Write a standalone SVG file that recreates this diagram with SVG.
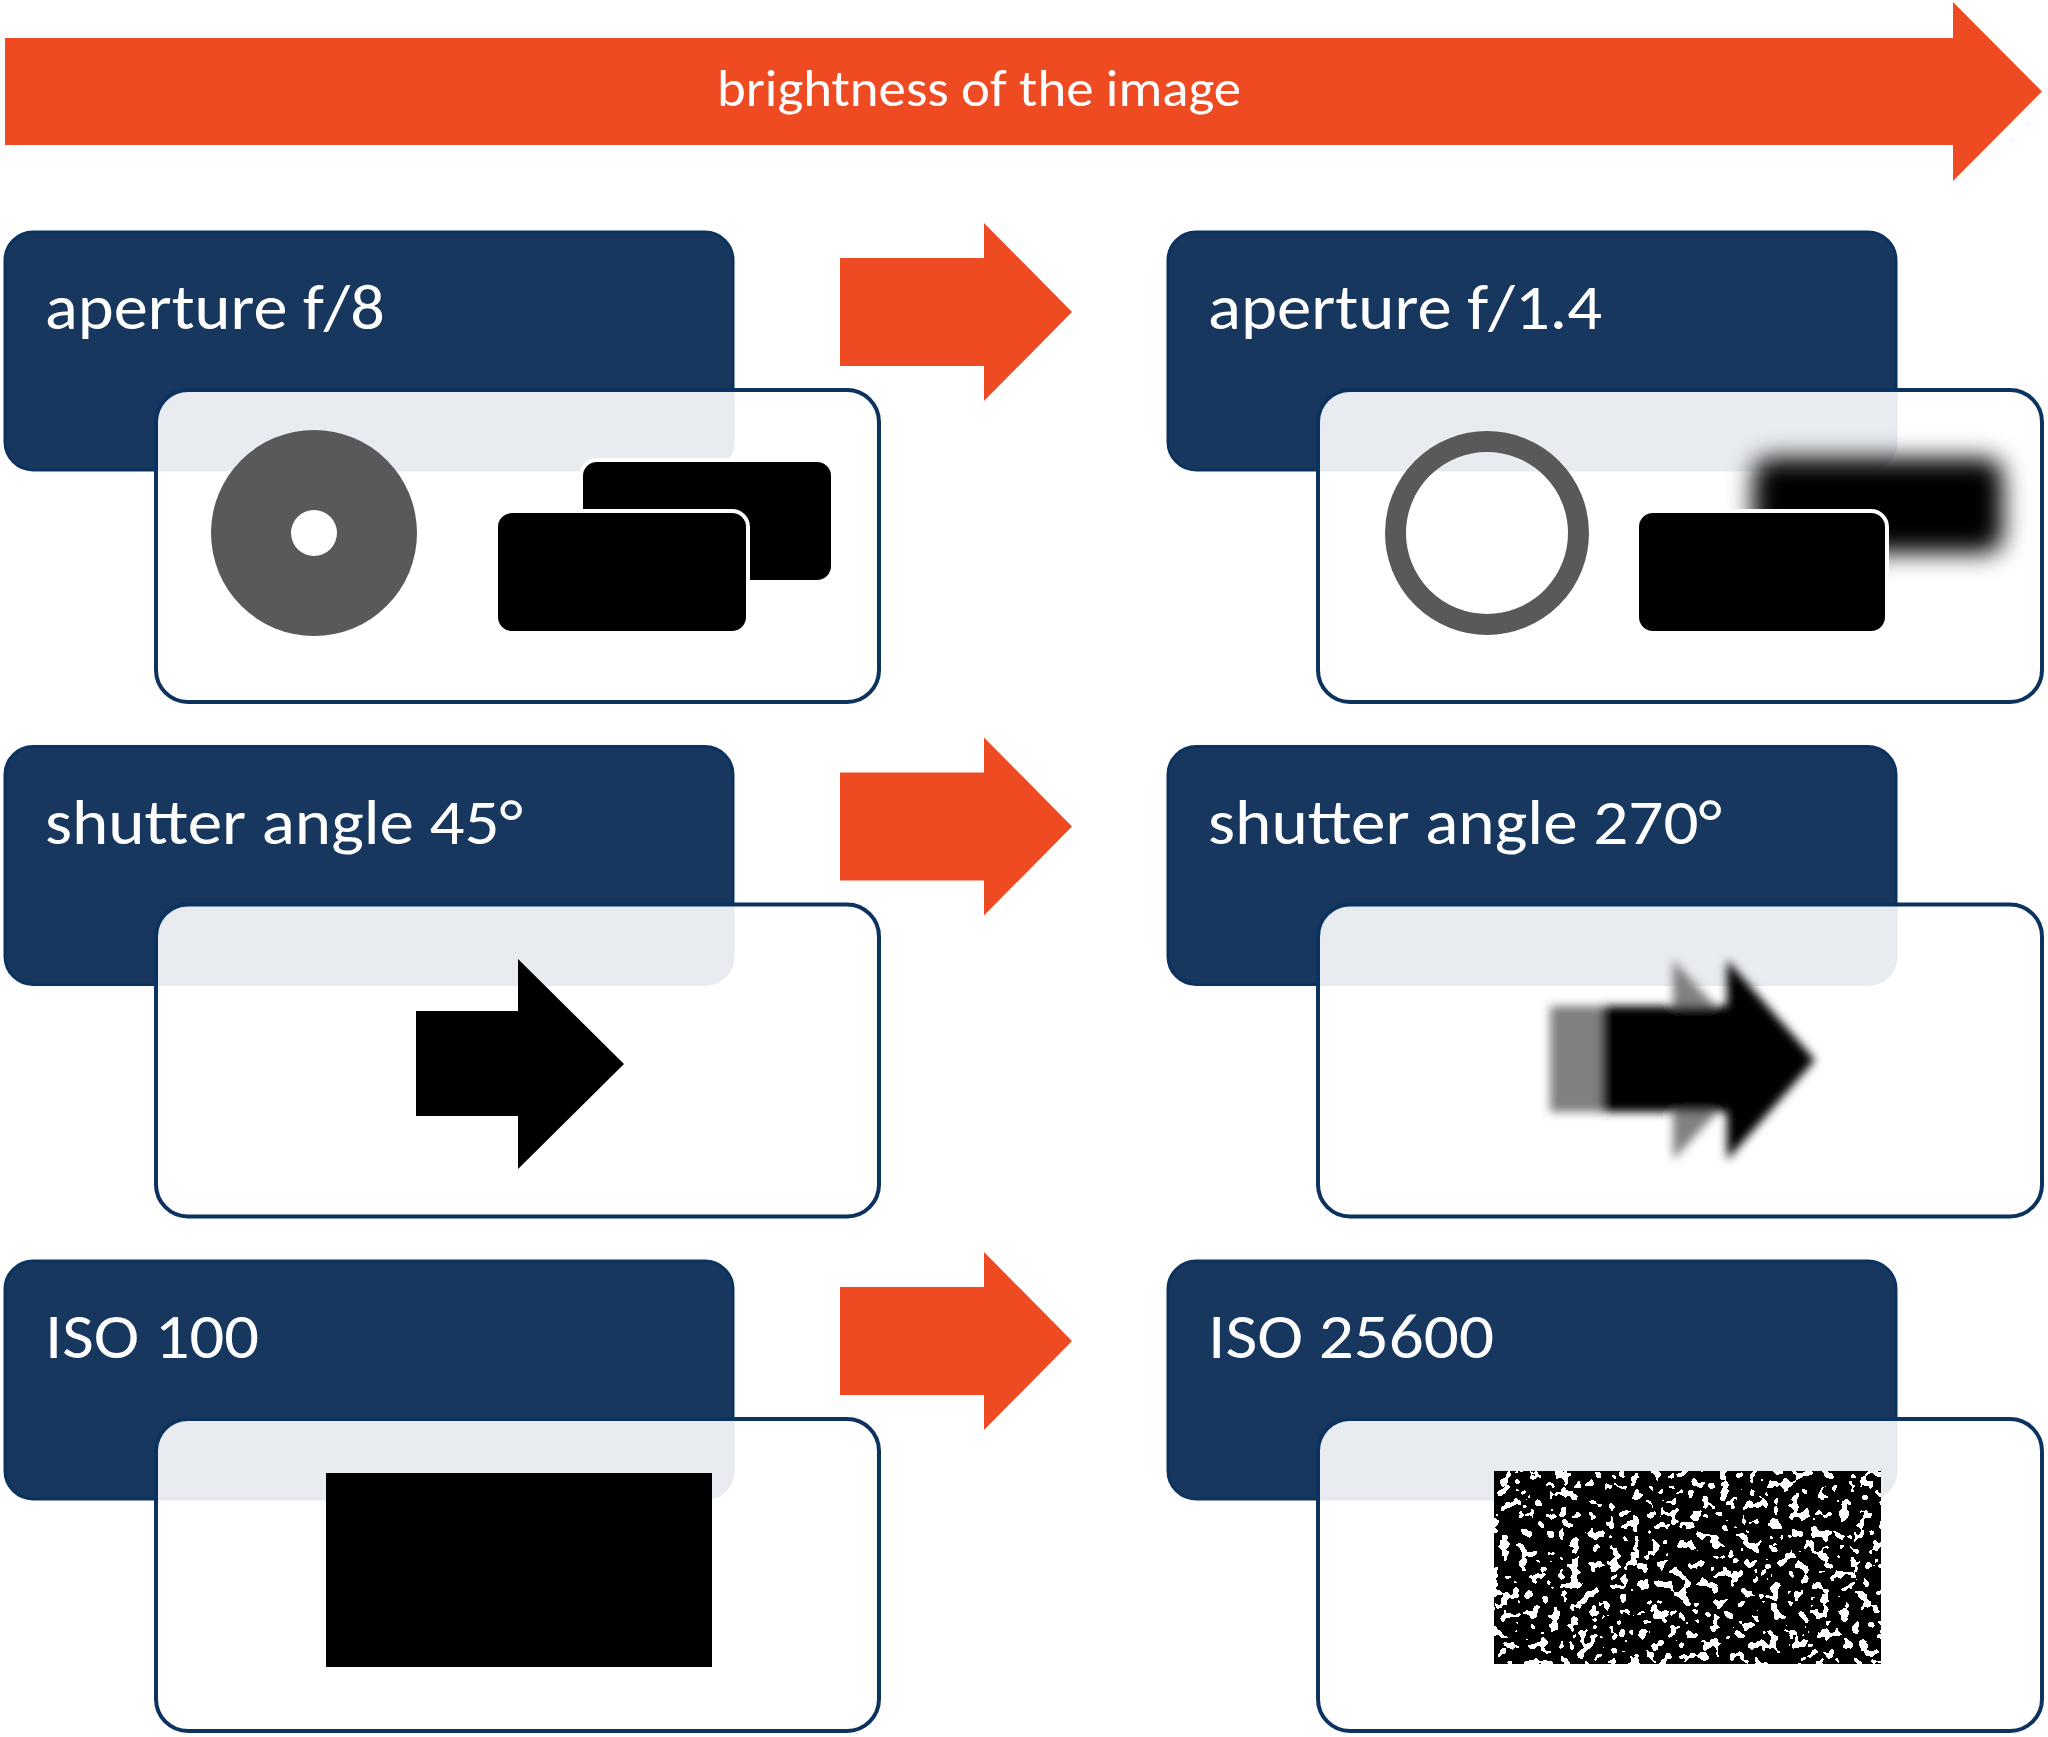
<svg xmlns="http://www.w3.org/2000/svg" width="2048" height="1737" viewBox="0 0 2048 1737">
  <defs>
    <style>
      .orange { fill: #EF4B23; }
      .title { fill: #17375E; stroke: #0C335F; stroke-width: 3; }
      .panel { fill: #FFFFFF; fill-opacity: 0.9; stroke: #0C335F; stroke-width: 4; }
      .lbl { font-family: Carlito, Calibri, Lato, "Open Sans", sans-serif; font-size: 63px; fill: #FFFFFF; }
      .banner { font-family: Carlito, Calibri, Lato, "Open Sans", sans-serif; font-size: 52px; fill: #FFFFFF; }
      .blk { fill: #000000; stroke: #FFFFFF; stroke-width: 4; }
    </style>
    <filter id="blurRect" x="-30%" y="-60%" width="160%" height="220%">
      <feGaussianBlur stdDeviation="12"/>
    </filter>
    <filter id="blurArrow" x="-20%" y="-20%" width="140%" height="140%">
      <feGaussianBlur stdDeviation="5"/>
    </filter>
    <filter id="noise" x="0" y="0" width="100%" height="100%" color-interpolation-filters="sRGB">
      <feTurbulence type="fractalNoise" baseFrequency="0.1" numOctaves="2" seed="23" result="t"/>
      <feColorMatrix in="t" type="matrix" values="1 0 0 0 0  1 0 0 0 0  1 0 0 0 0  0 0 0 0 1" result="g"/>
      <feComponentTransfer in="g">
        <feFuncR type="discrete" tableValues="0 0 0 0 0 0 0 0 0 0 0 0 1 1 1 1 1 1 1 1"/>
        <feFuncG type="discrete" tableValues="0 0 0 0 0 0 0 0 0 0 0 0 1 1 1 1 1 1 1 1"/>
        <feFuncB type="discrete" tableValues="0 0 0 0 0 0 0 0 0 0 0 0 1 1 1 1 1 1 1 1"/>
      </feComponentTransfer>
    </filter>
  </defs>

  <rect x="0" y="0" width="2048" height="1737" fill="#FFFFFF"/>

  <g id="banner">
    <polygon class="orange" points="5,38 1953,38 1953,2 2042,91.5 1953,181 1953,145 5,145"/>
    <text class="banner" x="979" y="106" text-anchor="middle" textLength="524" lengthAdjust="spacingAndGlyphs">brightness of the image</text>
  </g>

  <g id="connectors">
    <polygon class="orange" points="840,258 984,258 984,223 1072,312 984,401 984,366 840,366"/>
    <polygon class="orange" points="840,772.5 984,772.5 984,737.5 1072,826.5 984,915.5 984,880.5 840,880.5"/>
    <polygon class="orange" points="840,1287 984,1287 984,1252 1072,1341 984,1430 984,1395 840,1395"/>
  </g>

  <!-- Row 1 left -->
  <g id="aperture-f8">
    <rect class="title" x="5" y="232" width="728" height="238" rx="28"/>
    <text class="lbl" x="45" y="329" textLength="340" lengthAdjust="spacingAndGlyphs">aperture f/8</text>
    <rect class="panel" x="156" y="390" width="723" height="312" rx="32"/>
    <circle cx="314" cy="533" r="103" fill="#595959"/>
    <circle cx="314" cy="533" r="23" fill="#FFFFFF"/>
    <rect class="blk" x="581" y="460" width="252" height="122" rx="16"/>
    <rect class="blk" x="496" y="511" width="252" height="122" rx="16"/>
  </g>

  <!-- Row 1 right -->
  <g id="aperture-f14">
    <rect class="title" x="1168" y="232" width="728" height="238" rx="28"/>
    <text class="lbl" x="1208" y="329" textLength="394" lengthAdjust="spacingAndGlyphs">aperture f/1.4</text>
    <rect class="panel" x="1318" y="390" width="724" height="312" rx="32"/>
    <circle cx="1487" cy="533" r="91.5" fill="none" stroke="#595959" stroke-width="21"/>
    <rect x="1753" y="458" width="250" height="95" rx="18" fill="#000000" filter="url(#blurRect)"/>
    <rect class="blk" x="1637" y="511" width="250" height="122" rx="16"/>
  </g>

  <!-- Row 2 left -->
  <g id="shutter-45">
    <rect class="title" x="5" y="746.5" width="728" height="238" rx="28"/>
    <text class="lbl" x="45" y="843.5" textLength="478" lengthAdjust="spacingAndGlyphs">shutter angle 45°</text>
    <rect class="panel" x="156" y="904.5" width="723" height="312" rx="32"/>
    <polygon fill="#000000" points="416,1011 518,1011 518,959 624,1064 518,1169 518,1116 416,1116"/>
  </g>

  <!-- Row 2 right -->
  <g id="shutter-270">
    <rect class="title" x="1168" y="746.5" width="728" height="238" rx="28"/>
    <text class="lbl" x="1208" y="843.5" textLength="514" lengthAdjust="spacingAndGlyphs">shutter angle 270°</text>
    <rect class="panel" x="1318" y="904.5" width="724" height="312" rx="32"/>
    <g filter="url(#blurArrow)">
      <polygon fill="#808080" points="1550,1006 1673,1006 1673,960 1765,1060 1673,1160 1673,1112 1550,1112"/>
      <polygon fill="#000000" points="1602,1006 1727,1006 1727,960 1815,1060 1727,1160 1727,1112 1602,1112"/>
    </g>
  </g>

  <!-- Row 3 left -->
  <g id="iso-100">
    <rect class="title" x="5" y="1261" width="728" height="238" rx="28"/>
    <text class="lbl" x="45" y="1358" textLength="214" lengthAdjust="spacingAndGlyphs">ISO 100</text>
    <rect class="panel" x="156" y="1419" width="723" height="312" rx="32"/>
    <rect x="326" y="1473" width="386" height="194" fill="#000000"/>
  </g>

  <!-- Row 3 right -->
  <g id="iso-25600">
    <rect class="title" x="1168" y="1261" width="728" height="238" rx="28"/>
    <text class="lbl" x="1208" y="1358" textLength="286" lengthAdjust="spacingAndGlyphs">ISO 25600</text>
    <rect class="panel" x="1318" y="1419" width="724" height="312" rx="32"/>
    <rect x="1494" y="1471" width="387" height="193" fill="#000000" filter="url(#noise)"/>
  </g>
</svg>
